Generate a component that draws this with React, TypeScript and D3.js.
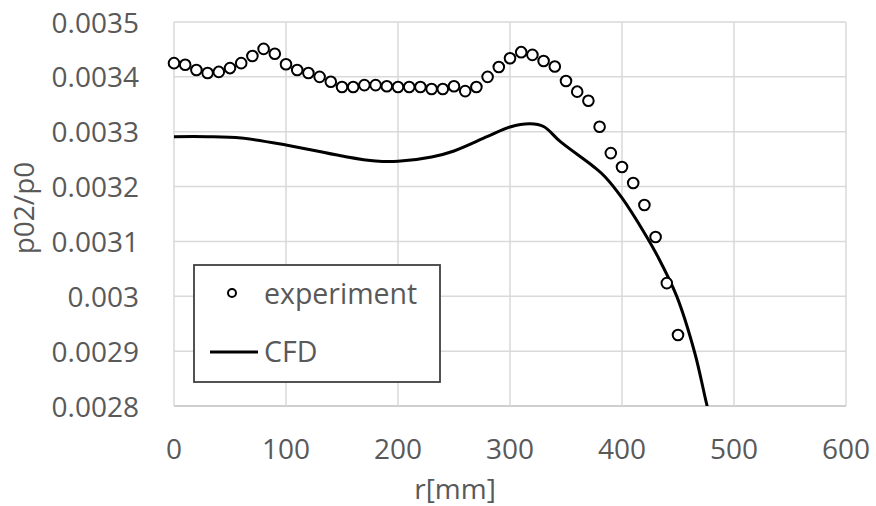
import React, { useEffect, useRef } from 'react';
import * as d3 from 'd3';

// experiment: r [mm] and p02/p0
const expR = [0, 10, 20, 30, 40, 50, 60, 70, 80, 90, 100, 110, 120, 130, 140, 150, 160, 170, 180, 190,
  200, 210, 220, 230, 240, 250, 260, 270, 280, 290, 300, 310, 320, 330, 340, 350, 360, 370, 380, 390,
  400, 410, 420, 430, 440, 450];
const expP = [0.003425, 0.003422, 0.0034125, 0.003407, 0.003409, 0.003416, 0.003425, 0.003438, 0.003451, 0.003442,
  0.003423, 0.0034125, 0.003407, 0.0034, 0.003391, 0.0033815, 0.0033815, 0.003385, 0.003385, 0.003383,
  0.0033815, 0.0033815, 0.0033815, 0.003378, 0.003378, 0.003383, 0.003374, 0.0033815, 0.0034, 0.003418,
  0.003434, 0.003445, 0.00344, 0.003429, 0.003419, 0.0033925, 0.003373, 0.0033565, 0.003309, 0.003261,
  0.0032357, 0.0032065, 0.0031664, 0.003108, 0.003024, 0.0029295];

// CFD curve
const cfdR = [0, 30, 60, 100, 150, 180, 200, 230, 250, 280, 300, 318, 330, 345, 375, 385, 400, 420, 432, 449, 465, 476, 480];
const cfdP = [0.003291, 0.003291, 0.0032885, 0.0032758, 0.0032557, 0.0032466, 0.003246, 0.0032539, 0.0032649, 0.0032913,
  0.0033086, 0.0033145, 0.0033095, 0.0032818, 0.0032357, 0.0032175, 0.0031792, 0.0031154, 0.0030722,
  0.0029993, 0.0028966, 0.0028, 0.00277];

const xTicks = [0, 100, 200, 300, 400, 500, 600];
const yTicks = [0.0028, 0.0029, 0.003, 0.0031, 0.0032, 0.0033, 0.0034, 0.0035];
const legendLabels = ['experiment', 'CFD'];

const App = () => {
  const ref = useRef<SVGSVGElement>(null);

  useEffect(() => {
    const svg = d3.select(ref.current);
    svg.selectAll('*').remove();

    const width = 876, height = 506;
    const left = 174, right = 846, top = 22, bottom = 406;
    const font = '"Open Sans", sans-serif';
    const textColor = '#595959';

    svg.attr('width', width).attr('height', height);

    const x = d3.scaleLinear().domain([0, 600]).range([left, right]);
    const y = d3.scaleLinear().domain([0.0028, 0.0035]).range([bottom, top]);

    svg.append('rect').attr('width', width).attr('height', height).attr('fill', '#fff');

    svg.append('defs').append('clipPath').attr('id', 'plot')
      .append('rect').attr('x', left).attr('y', top).attr('width', right - left).attr('height', bottom - top);

    // grid
    svg.append('g').selectAll('line').data(yTicks).join('line')
      .attr('x1', left).attr('x2', right)
      .attr('y1', (d) => y(d)).attr('y2', (d) => y(d))
      .attr('stroke', (d, i) => (i === 0 ? '#bfbfbf' : '#d9d9d9'))
      .attr('stroke-width', 1.5);
    svg.append('g').selectAll('line').data(xTicks).join('line')
      .attr('x1', (d) => x(d)).attr('x2', (d) => x(d))
      .attr('y1', top).attr('y2', bottom)
      .attr('stroke', '#d9d9d9')
      .attr('stroke-width', 1.5);

    // tick labels
    svg.append('g').selectAll('text').data(yTicks).join('text')
      .attr('x', 139).attr('y', (d) => y(d) + 10.5)
      .attr('text-anchor', 'end')
      .attr('font-family', font).attr('font-size', 28).attr('fill', textColor)
      .text((d) => String(+d.toFixed(4)));
    svg.append('g').selectAll('text').data(xTicks).join('text')
      .attr('x', (d) => x(d)).attr('y', 459)
      .attr('text-anchor', 'middle')
      .attr('font-family', font).attr('font-size', 28).attr('fill', textColor)
      .text((d) => d);

    svg.append('text')
      .attr('x', 455).attr('y', 499)
      .attr('text-anchor', 'middle')
      .attr('font-family', font).attr('font-size', 28).attr('fill', textColor)
      .text('r[mm]');
    svg.append('text')
      .attr('transform', `translate(34, 208) rotate(-90)`)
      .attr('text-anchor', 'middle')
      .attr('font-family', font).attr('font-size', 28).attr('fill', textColor)
      .text('p02/p0');

    // CFD line
    const line = d3.line<number>()
      .x((d, i) => x(cfdR[i]))
      .y((d) => y(d))
      .curve(d3.curveCatmullRom.alpha(0.5));
    svg.append('path')
      .datum(cfdP)
      .attr('clip-path', 'url(#plot)')
      .attr('d', line)
      .attr('fill', 'none')
      .attr('stroke', '#000')
      .attr('stroke-width', 3);

    // experiment markers
    svg.append('g').selectAll('circle').data(expP).join('circle')
      .attr('cx', (d, i) => x(expR[i]))
      .attr('cy', (d) => y(d))
      .attr('r', 5.3)
      .attr('fill', '#fff')
      .attr('stroke', '#000')
      .attr('stroke-width', 2);

    // legend
    const lg = svg.append('g');
    lg.append('rect')
      .attr('x', 194).attr('y', 265).attr('width', 246).attr('height', 117)
      .attr('fill', '#fff').attr('stroke', '#404040').attr('stroke-width', 1.8);
    lg.append('circle')
      .attr('cx', 232).attr('cy', 293).attr('r', 4)
      .attr('fill', '#fff').attr('stroke', '#000').attr('stroke-width', 2);
    lg.append('line')
      .attr('x1', 210).attr('x2', 258).attr('y1', 352).attr('y2', 352)
      .attr('stroke', '#000').attr('stroke-width', 3);
    lg.selectAll('text').data(legendLabels).join('text')
      .attr('x', 264).attr('y', (d, i) => (i === 0 ? 304 : 362))
      .attr('font-family', font).attr('font-size', 28.5).attr('fill', textColor)
      .text((d) => d);
  }, []);

  return (
    <div style={{ position: 'absolute', left: 0, top: 0 }}>
      <svg ref={ref}></svg>
    </div>
  );
};

export default App;
